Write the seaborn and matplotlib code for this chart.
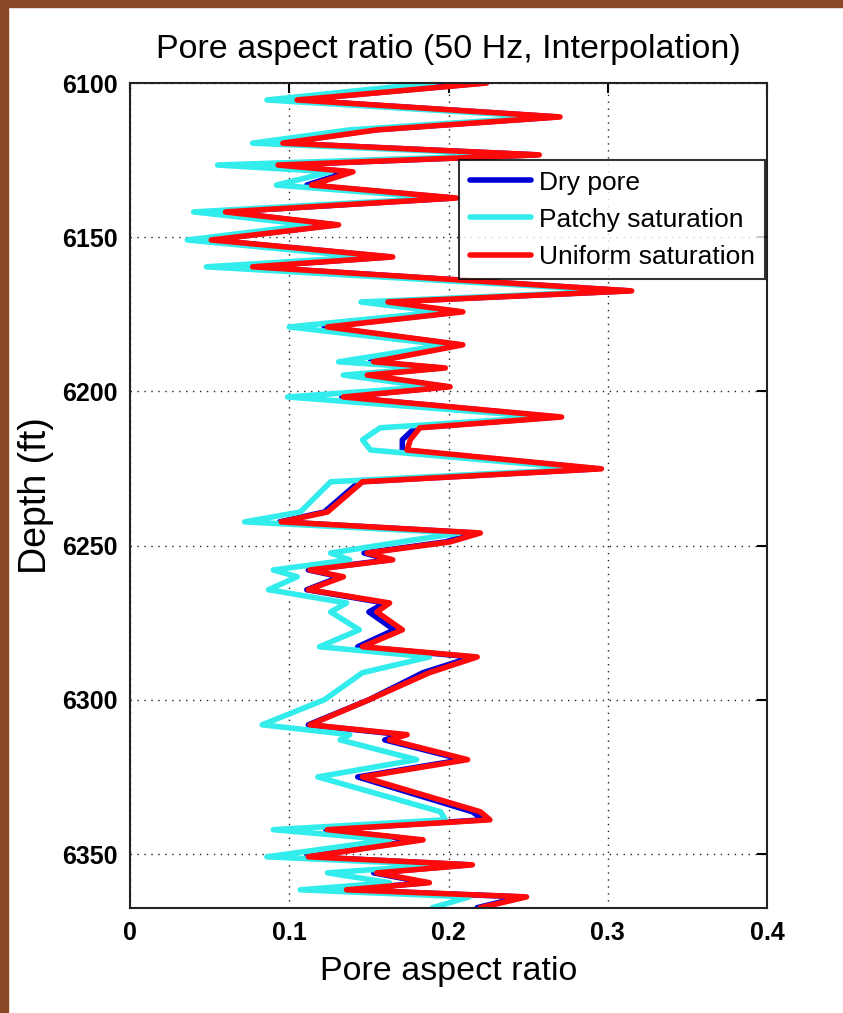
import matplotlib
matplotlib.use("Agg")
import matplotlib.pyplot as plt
import matplotlib.patches as mpatches
import seaborn as sns
import pandas as pd

# Depth samples (ft) shared by the three pore-aspect-ratio logs
depth = [6100.0, 6105.5, 6111.0, 6115.2, 6119.5, 6123.3, 6126.6, 6128.8, 6133.1,
         6137.3, 6141.8, 6146.0, 6150.9, 6156.4, 6159.6, 6167.4, 6171.0, 6174.2,
         6179.1, 6184.9, 6190.4, 6192.4, 6194.7, 6198.5, 6201.8, 6208.3, 6211.8,
         6215.7, 6219.0, 6225.1, 6229.3, 6239.1, 6242.3, 6245.9, 6248.8, 6252.4,
         6254.6, 6257.9, 6260.1, 6264.3, 6268.6, 6271.5, 6277.3, 6282.8, 6286.1,
         6291.2, 6300.0, 6308.1, 6311.3, 6313.0, 6319.4, 6325.0, 6336.3, 6338.9,
         6342.1, 6345.4, 6350.9, 6353.5, 6356.1, 6359.3, 6361.6, 6363.9, 6367.4]

dry_pore = [0.222, 0.104, 0.268, 0.153, 0.095, 0.255, 0.092, 0.137, 0.111,
            0.203, 0.059, 0.129, 0.050, 0.163, 0.076, 0.313, 0.159, 0.206,
            0.122, 0.207, 0.151, 0.195, 0.146, 0.199, 0.133, 0.268, 0.179,
            0.171, 0.171, 0.293, 0.144, 0.122, 0.094, 0.217, 0.198, 0.147,
            0.163, 0.112, 0.132, 0.111, 0.160, 0.150, 0.166, 0.143, 0.215,
            0.184, 0.150, 0.112, 0.171, 0.160, 0.209, 0.143, 0.215, 0.222,
            0.123, 0.181, 0.111, 0.213, 0.153, 0.186, 0.135, 0.246, 0.218]

patchy_saturation = [0.190, 0.086, 0.261, 0.138, 0.077, 0.245, 0.055, 0.126, 0.092,
                     0.195, 0.040, 0.113, 0.036, 0.148, 0.048, 0.308, 0.145, 0.195,
                     0.100, 0.198, 0.131, 0.188, 0.134, 0.188, 0.099, 0.261, 0.157,
                     0.146, 0.151, 0.286, 0.126, 0.107, 0.072, 0.207, 0.170, 0.126,
                     0.138, 0.090, 0.105, 0.087, 0.136, 0.126, 0.144, 0.119, 0.188,
                     0.146, 0.122, 0.083, 0.138, 0.132, 0.180, 0.118, 0.195, 0.198,
                     0.090, 0.163, 0.086, 0.195, 0.124, 0.163, 0.107, 0.213, 0.190]

uniform_saturation = [0.224, 0.105, 0.270, 0.155, 0.096, 0.257, 0.093, 0.140, 0.114,
                      0.205, 0.060, 0.131, 0.051, 0.165, 0.077, 0.315, 0.162, 0.209,
                      0.124, 0.209, 0.153, 0.198, 0.149, 0.201, 0.134, 0.271, 0.182,
                      0.176, 0.174, 0.296, 0.146, 0.124, 0.095, 0.220, 0.201, 0.149,
                      0.165, 0.113, 0.134, 0.112, 0.163, 0.155, 0.171, 0.146, 0.218,
                      0.188, 0.150, 0.113, 0.174, 0.163, 0.212, 0.146, 0.220, 0.226,
                      0.124, 0.184, 0.112, 0.215, 0.155, 0.188, 0.136, 0.249, 0.220]

series_names = ["Dry pore", "Patchy saturation", "Uniform saturation"]
series_colors = ["#0000d8", "#33ecec", "#ff0a0a"]
x_ticks = [0, 0.1, 0.2, 0.3, 0.4]
x_tick_labels = ["0", "0.1", "0.2", "0.3", "0.4"]
y_ticks = [6100, 6150, 6200, 6250, 6300, 6350]

rows = []
for name, vals in zip(series_names, [dry_pore, patchy_saturation, uniform_saturation]):
    for order, (d, v) in enumerate(zip(depth, vals)):
        rows.append({"series": name, "depth": d, "ratio": v, "order": order})
df = pd.DataFrame(rows)

sns.set_style("white")
plt.rcParams["font.family"] = ["Liberation Sans", "DejaVu Sans"]
plt.rcParams["text.color"] = "black"
plt.rcParams["axes.labelcolor"] = "black"
plt.rcParams["xtick.color"] = "black"
plt.rcParams["ytick.color"] = "black"

fig = plt.figure(figsize=(8.43, 10.13), dpi=100, facecolor="white")
ax = fig.add_axes([130 / 843, 1 - 908 / 1013, (767 - 130) / 843, (908 - 83) / 1013])

sns.lineplot(data=df, x="ratio", y="depth", hue="series", hue_order=series_names,
             palette=dict(zip(series_names, series_colors)), sort=False,
             estimator=None, orient="y", linewidth=4, ax=ax)

ax.set_xlim(0, 0.4)
ax.set_ylim(6367.5, 6100)
ax.set_xticks(x_ticks)
ax.set_xticklabels(x_tick_labels)
ax.set_yticks(y_ticks)
ax.grid(True, linestyle=(0, (1, 4)), color="#222222", linewidth=1.0)
ax.tick_params(direction="in", length=7, width=1.5, top=True, right=True,
               labelsize=18, pad=9)
for lbl in ax.get_xticklabels() + ax.get_yticklabels():
    lbl.set_fontweight("bold")
for sp in ax.spines.values():
    sp.set_color("#222222")
    sp.set_linewidth(1.5)

ax.set_xlabel("Pore aspect ratio", fontsize=24.5, labelpad=8)
ax.set_ylabel("Depth (ft)", fontsize=27, labelpad=6)
ax.set_title("Pore aspect ratio (50 Hz, Interpolation)", fontsize=24.5, pad=18)

leg = ax.legend(loc="upper right", bbox_to_anchor=(0.997, 0.9067), fontsize=19,
                frameon=True, fancybox=False, handlelength=2.3, handletextpad=0.3,
                borderpad=0.4, labelspacing=0.5, borderaxespad=0)
leg.get_frame().set_edgecolor("black")
leg.get_frame().set_linewidth(1.5)
for line in leg.get_lines():
    line.set_linewidth(4)

# slide border around the figure
brown = "#8a4826"
fig.patches.append(mpatches.Rectangle((0, 0), 8 / 843, 1, transform=fig.transFigure,
                                      color=brown, zorder=-1))
fig.patches.append(mpatches.Rectangle((0, 1 - 7 / 1013), 1, 7 / 1013,
                                      transform=fig.transFigure, color=brown, zorder=-1))

fig.savefig("out.png", dpi=100, facecolor=fig.get_facecolor())
